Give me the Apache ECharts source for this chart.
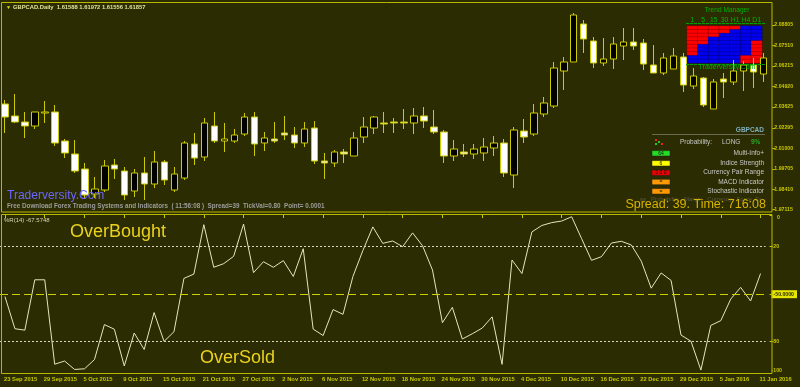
<!DOCTYPE html>
<html><head><meta charset="utf-8">
<script src="https://cdn.jsdelivr.net/npm/echarts@6/dist/echarts.min.js"></script>
<style>html,body{margin:0;padding:0;background:#2c2c02;}#c{width:800px;height:387px;}</style>
</head><body><div id="c"></div>
<script>
const dates = ['23 Sep 2015','24 Sep 2015','25 Sep 2015','28 Sep 2015','29 Sep 2015','30 Sep 2015','1 Oct 2015','2 Oct 2015','5 Oct 2015','6 Oct 2015','7 Oct 2015','8 Oct 2015','9 Oct 2015','12 Oct 2015','13 Oct 2015','14 Oct 2015','15 Oct 2015','16 Oct 2015','19 Oct 2015','20 Oct 2015','21 Oct 2015','22 Oct 2015','23 Oct 2015','26 Oct 2015','27 Oct 2015','28 Oct 2015','29 Oct 2015','30 Oct 2015','2 Nov 2015','3 Nov 2015','4 Nov 2015','5 Nov 2015','6 Nov 2015','9 Nov 2015','10 Nov 2015','11 Nov 2015','12 Nov 2015','13 Nov 2015','16 Nov 2015','17 Nov 2015','18 Nov 2015','19 Nov 2015','20 Nov 2015','23 Nov 2015','24 Nov 2015','25 Nov 2015','26 Nov 2015','27 Nov 2015','30 Nov 2015','1 Dec 2015','2 Dec 2015','3 Dec 2015','4 Dec 2015','7 Dec 2015','8 Dec 2015','9 Dec 2015','10 Dec 2015','11 Dec 2015','14 Dec 2015','15 Dec 2015','16 Dec 2015','17 Dec 2015','18 Dec 2015','21 Dec 2015','22 Dec 2015','23 Dec 2015','24 Dec 2015','28 Dec 2015','29 Dec 2015','30 Dec 2015','31 Dec 2015','4 Jan 2016','5 Jan 2016','6 Jan 2016','7 Jan 2016','8 Jan 2016','11 Jan 2016'];

const opens = [2.03804,2.03045,2.02665,2.02412,2.03235,2.03298,2.01462,2.00639,1.99690,1.98107,1.98361,1.99943,1.99563,1.98297,1.99437,1.98740,2.00133,1.98361,1.99120,2.01272,2.00449,2.02412,2.01462,2.01462,2.01905,2.02981,2.01336,2.01589,2.01969,2.01842,2.01336,2.02285,2.00196,2.00070,2.00766,2.00513,2.01715,2.02285,2.02602,2.02665,2.02665,2.02602,2.03045,2.02348,2.02032,2.00513,2.00766,2.00639,2.00703,2.01019,2.01336,1.99310,2.02095,2.01905,2.03171,2.03678,2.05893,2.06463,2.08868,2.07792,2.06400,2.06653,2.07476,2.07729,2.07666,2.06273,2.05767,2.06020,2.06779,2.04944,2.05450,2.03488,2.05387,2.05197,2.05893,2.06273,2.05703];
const closes = [2.02981,2.02665,2.02412,2.03298,2.03298,2.01336,2.00703,1.99563,1.98044,1.98424,1.99880,1.99690,1.98044,1.99437,1.98740,2.00133,1.98994,1.99373,2.01336,2.00386,2.02602,2.01462,2.01589,2.01842,2.02981,2.01272,2.01652,2.01462,2.01842,2.01336,2.02222,2.00196,2.00070,2.00766,2.00639,2.01652,2.02348,2.02981,2.02538,2.02602,2.02602,2.03045,2.02728,2.02032,2.00513,2.00956,2.00639,2.00956,2.01082,2.01336,1.99437,2.02159,2.01715,2.03235,2.03868,2.06083,2.06463,2.09438,2.07919,2.06400,2.06653,2.07602,2.07729,2.07476,2.06336,2.05767,2.06716,2.06843,2.05007,2.05577,2.03741,2.05197,2.05197,2.05893,2.06273,2.05830,2.06716];
const lows = [2.01969,2.02602,2.01652,2.02222,2.02602,2.01146,2.00386,1.99437,1.97854,1.97854,1.98234,1.99057,1.97728,1.97917,1.97728,1.98487,1.98677,1.98234,1.98994,1.99943,2.00196,2.01336,2.00766,2.01336,2.01779,2.00513,2.00829,2.01336,2.01526,2.01019,2.01082,2.00006,1.99057,1.99816,2.00070,2.00513,2.01336,2.01905,2.01969,2.01969,2.02222,2.01905,2.02285,2.01905,2.00070,2.00196,2.00449,2.00323,2.00196,2.00513,1.99183,1.98487,2.01336,2.01779,2.02981,2.03551,2.04691,2.06463,2.07033,2.06083,2.06210,2.06020,2.06590,2.07223,2.05957,2.05767,2.05640,2.06020,2.04564,2.04754,2.03614,2.03488,2.04184,2.05007,2.04627,2.04817,2.05197];
const highs = [2.04058,2.04437,2.03298,2.03298,2.03994,2.03741,2.01589,2.01526,2.00070,1.99183,2.00260,2.00323,1.99816,1.99690,2.00449,2.00829,2.00260,1.99816,2.01462,2.01969,2.02918,2.03298,2.02602,2.02222,2.03235,2.03298,2.02032,2.02665,2.03045,2.02348,2.02665,2.02728,2.00703,2.00893,2.00956,2.02032,2.02981,2.03045,2.03298,2.02918,2.03488,2.03551,2.03614,2.03425,2.02159,2.01526,2.01272,2.01272,2.01652,2.01779,2.01589,2.02348,2.02855,2.03804,2.04247,2.06463,2.06779,2.09565,2.09122,2.08045,2.07982,2.08045,2.08615,2.08615,2.07919,2.07539,2.07033,2.07349,2.07033,2.06083,2.05513,2.05387,2.05767,2.06590,2.06526,2.06716,2.07033];

const wpr = [-51.5,-71.8,-72.7,-40.9,-40.9,-94.2,-92.2,-97.5,-97.1,-91.3,-69.2,-72.1,-95.3,-74.5,-84.9,-61.6,-79.8,-73.7,-40,-37.3,-6.1,-33,-30.7,-26.1,-5.7,-36.4,-29.5,-33,-28.8,-38.8,-21.3,-72,-76.1,-59.7,-62.7,-38.8,-22.4,-7.5,-17.9,-16.4,-20,-11.3,-19.4,-34.7,-68,-58.3,-78.3,-75,-71.4,-64.3,-94.3,-28.4,-37,-10.7,-6.6,-4.8,-3.8,-1.1,-14.9,-28.6,-26.3,-17.7,-16.6,-18.9,-29.1,-46.2,-36.6,-41.3,-75.8,-79.7,-97.9,-69.7,-66.7,-53.1,-45.7,-54.3,-37];

const priceTicks = [2.08805,2.07510,2.06215,2.04920,2.03625,2.02295,2.01000,1.99705,1.98410,1.97115];
const wprTicks = [0,-20,-50,-80,-100];
const wprLabelTicks = [-20,-50,-80,-100];
const wprTopLabel = '0';
const wprLevels = [-20,-80];
const wprMid = -50;

const tfLabels = ['1','5','15','30','H1','H4','D1'];
// 1 = red (down), 0 = blue (up); rows top to bottom, one column per timeframe
const trendMatrix = [
  [1,1,1,1,1,1,1,1,0,0],
  [1,1,1,1,1,0,0,0,0,0],
  [1,1,1,0,0,0,0,0,0,0],
  [1,1,0,0,0,0,0,0,0,0],
  [1,0,0,0,0,0,0,0,0,0],
  [0,0,0,0,0,0,0,0,1,1],
  [0,0,0,0,1,1,1,1,1,1]
];

const infoRows = [
  {box:'64', boxColor:'#22dd22', label:'Multi-Info+'},
  {box:'6', boxColor:'#ffff00', label:'Indice Strength'},
  {box:'0 0 0', boxColor:'#ee0000', label:'Currency Pair Range'},
  {box:'=', boxColor:'#ff9900', label:'MACD Indicator'},
  {box:'=', boxColor:'#ff9900', label:'Stochastic Indicator'}
];

const FG = '#c8c800';
const FONT = 'Liberation Sans';
const candleData = opens.map((o,i)=>[o, closes[i], lows[i], highs[i]]);
const heatData = [];
trendMatrix.forEach((col,c)=>col.forEach((v,r)=>heatData.push({value:[c,r,v], itemStyle:{color: v ? '#ff0000' : '#0000ee'}})));

const chart = echarts.init(document.getElementById('c'), null, {renderer:'canvas'});

const graphics = [
  {type:'rect', shape:{x:1.5,y:2.5,width:770.5,height:209.5}, style:{fill:'none', stroke:'#b8b800', lineWidth:1}, z:10, silent:true},
  {type:'rect', shape:{x:1.5,y:214.5,width:770.5,height:159}, style:{fill:'none', stroke:'#b8b800', lineWidth:1}, z:10, silent:true},
  {type:'text', x:777, y:215.5, style:{text:wprTopLabel, fill:FG, font:'bold 5.2px '+FONT}, z:20},
  {type:'text', x:6, y:5, style:{text:'\u25BC', fill:'#e0e000', font:'5px '+FONT}, z:20},
  {type:'text', x:13, y:4.5, style:{text:'GBPCAD.Daily  1.61588 1.61972 1.61556 1.61857', fill:'#e2e29a', font:'bold 5.8px '+FONT}, z:20},
  {type:'text', x:7, y:190, style:{text:'Traderversity.Com', fill:'#6a66ff', font:'12px '+FONT}, z:20},
  {type:'text', x:7, y:203.5, style:{text:'Free Download Forex Trading Systems and Indicators  ( 11:56:08 )  Spread=39  TickVal=0.80  Point= 0.0001', fill:'#9c9c9c', font:'bold 6.3px '+FONT}, z:20},
  {type:'text', x:4, y:217.5, style:{text:'%R(14) -67.5748', fill:'#d8d8b0', font:'6px '+FONT}, z:20},
  {type:'text', x:70, y:223, style:{text:'OverBought', fill:'#ead21e', font:'18px '+FONT}, z:20},
  {type:'text', x:200, y:349, style:{text:'OverSold', fill:'#ead21e', font:'18px '+FONT}, z:20},
  {type:'text', x:727, y:7, style:{text:'Trend Manager', fill:'#00b400', font:'6.6px '+FONT, align:'center'}, z:20},
  {type:'line', shape:{x1:686,y1:23.5,x2:765,y2:23.5}, style:{stroke:'#00a000', lineWidth:1, lineDash:[3,1]}, z:20},
  {type:'line', shape:{x1:686,y1:64.5,x2:765,y2:64.5}, style:{stroke:'#00a000', lineWidth:1, lineDash:[3,1]}, z:20},
  {type:'text', x:727, y:64, style:{text:'Traderversity.Com', fill:'#00b400', font:'7px '+FONT, align:'center'}, z:20},
  {type:'text', x:764, y:127, style:{text:'GBPCAD', fill:'#7fb0c0', font:'bold 6.5px '+FONT, align:'right'}, z:20},
  {type:'line', shape:{x1:652,y1:134.5,x2:765,y2:134.5}, style:{stroke:'#6a6a50', lineWidth:1}, z:20},
  {type:'rect', shape:{x:655,y:139,width:2,height:2}, style:{fill:'#ee2222'}, z:20},
  {type:'rect', shape:{x:658,y:141,width:2,height:2}, style:{fill:'#22cc22'}, z:20},
  {type:'rect', shape:{x:655,y:143,width:2,height:2}, style:{fill:'#22cc22'}, z:20},
  {type:'rect', shape:{x:661,y:143,width:2,height:2}, style:{fill:'#ee2222'}, z:20},
  {type:'text', x:680, y:139, style:{text:'Probability:', fill:'#c8c8c8', font:'6.5px '+FONT}, z:20},
  {type:'text', x:722, y:139, style:{text:'LONG', fill:'#c8c8c8', font:'6.5px '+FONT}, z:20},
  {type:'text', x:751, y:139, style:{text:'9%', fill:'#22aa22', font:'bold 6.5px '+FONT}, z:20},
  {type:'text', x:640, y:196, style:{text:'ss   Probability   Margin   Currency   Force  Er', fill:'#5a5a40', font:'6px '+FONT}, z:15},
  {type:'text', x:766, y:198, style:{text:'Spread: 39. Time: 716:08', fill:'#d8b400', font:'12.5px '+FONT, align:'right'}, z:20}
];
const rowYs = [153.3,163.3,172.7,182,191.3];
infoRows.forEach((r,i)=>{
  graphics.push({type:'rect', shape:{x:652,y:rowYs[i]-2.7,width:18,height:5.4}, style:{fill:r.boxColor, stroke:'#222', lineWidth:0.5}, z:20});
  graphics.push({type:'text', x:661, y:rowYs[i]-2.6, style:{text:r.box, fill:'#111', font:'5px '+FONT, align:'center'}, z:21});
  graphics.push({type:'text', x:764, y:rowYs[i]-3.6, style:{text:r.label, fill:'#c8c8c8', font:'6.5px '+FONT, align:'right'}, z:20});
});

chart.setOption({
  backgroundColor:'#2c2c02',
  animation:false,
  grid:[
    {left:-1.7, top:3, width:770, height:209},
    {left:-1.7, top:215, width:770, height:158.4},
    {left:687, top:26, width:75, height:37}
  ],
  xAxis:[
    {type:'category', gridIndex:0, data:dates, boundaryGap:true, axisLine:{show:false}, axisTick:{show:false}, axisLabel:{show:false}, splitLine:{show:false}},
    {type:'category', gridIndex:1, data:dates, boundaryGap:true, axisLine:{show:false},
      axisTick:{show:true, alignWithLabel:true, interval:3, length:3, lineStyle:{color:FG}},
      axisLabel:{interval:3, align:'left', margin:3, color:FG, fontSize:5.8, fontWeight:'bold', fontFamily:FONT, padding:[0,0,0,-1]},
      splitLine:{show:false}},
    {type:'category', gridIndex:2, data:tfLabels, position:'top', axisLine:{show:false}, axisTick:{show:false},
      axisLabel:{interval:0, hideOverlap:false, color:'#00b400', fontSize:6.8, fontFamily:FONT, margin:2}}
  ],
  yAxis:[
    {type:'value', gridIndex:0, position:'right', offset:4, min:1.969679, max:2.101976, scale:true,
      axisLine:{show:false}, splitLine:{show:false},
      axisTick:{show:true, length:2.5, customValues:priceTicks, lineStyle:{color:FG}},
      axisLabel:{customValues:priceTicks, formatter:v=>v.toFixed(5), color:FG, fontSize:5.2, fontWeight:'bold', fontFamily:FONT, margin:2}},
    {type:'value', gridIndex:1, position:'right', offset:4, min:-100, max:0,
      axisLine:{show:false}, splitLine:{show:false},
      axisTick:{show:true, length:2.5, customValues:wprTicks, lineStyle:{color:FG}},
      axisLabel:{customValues:wprLabelTicks, showMinLabel:true, hideOverlap:false, color:FG, fontSize:5.2, fontWeight:'bold', fontFamily:FONT, margin:2,
        formatter:v=> v===wprMid ? '{hl|-50.0000}' : (v===-100 ? '{b|-100}' : String(v)),
        rich:{hl:{backgroundColor:'#e6e600', color:'#2c2c02', padding:[2,3,1,2], fontSize:5.2, fontWeight:'bold', fontFamily:FONT},
              b:{padding:[0,0,6,0], color:FG, fontSize:5.2, fontWeight:'bold', fontFamily:FONT}}}},
    {type:'category', gridIndex:2, data:['0','1','2','3','4','5','6','7','8','9'], inverse:true, show:false}
  ],
  series:[
    {type:'candlestick', xAxisIndex:0, yAxisIndex:0, data:candleData, barWidth:7,
      itemStyle:{color:'#000000', color0:'#ffffff', borderColor:'#cccc00', borderColor0:'#cccc00', borderWidth:1}},
    {type:'line', xAxisIndex:1, yAxisIndex:1, data:wpr, symbol:'none', lineStyle:{color:'#e6e4bc', width:1},
      markLine:{silent:true, symbol:'none', label:{show:false},
        data:[
          {yAxis:wprLevels[0], lineStyle:{color:'#d8d8c0', type:[2,2], width:1}},
          {yAxis:wprLevels[1], lineStyle:{color:'#d8d8c0', type:[2,2], width:1}},
          {yAxis:wprMid, lineStyle:{color:'#d0d000', type:[8,4], width:1}}
        ]}},
    {type:'heatmap', xAxisIndex:2, yAxisIndex:2, data:heatData, itemStyle:{borderColor:'rgba(0,0,0,0.35)', borderWidth:0.6}}
  ],
  graphic: graphics
});
</script></body></html>
